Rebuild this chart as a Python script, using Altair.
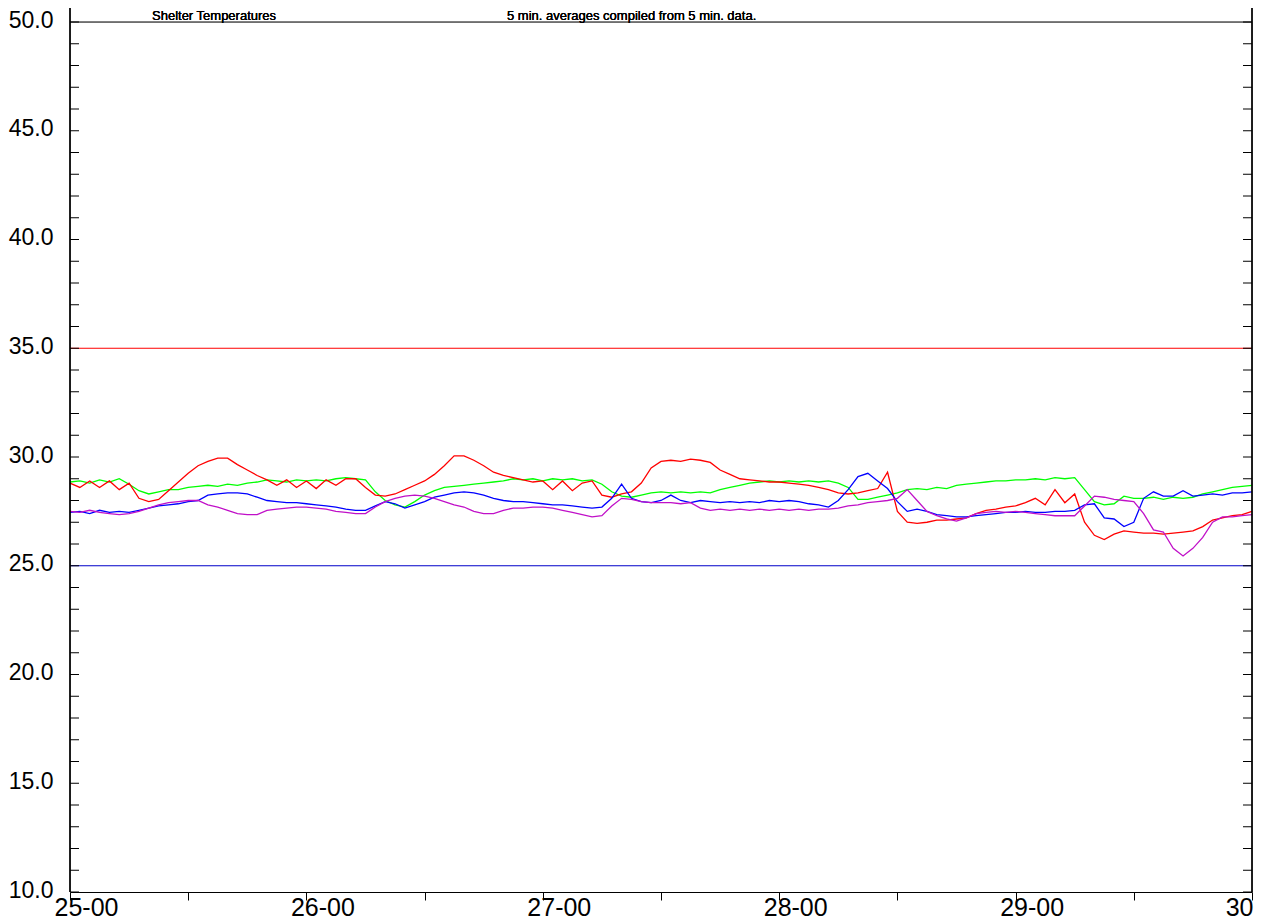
import altair as alt
import pandas as pd

# ---- data (hourly readings, hour 0 = day 25 00:00) ----
hours = list(range(121))

red = [28.8, 28.6, 28.9, 28.6, 28.9, 28.5, 28.8, 28.1, 27.95, 28.05,
       28.45, 28.85, 29.25, 29.6, 29.8, 29.95, 29.95, 29.65, 29.4, 29.15,
       28.95, 28.7, 28.95, 28.6, 28.9, 28.55, 28.95, 28.7, 29.0, 29.0,
       28.6, 28.25, 28.2, 28.3, 28.5, 28.7, 28.9, 29.2, 29.6, 30.05,
       30.05, 29.85, 29.6, 29.3, 29.15, 29.05, 28.95, 28.85, 28.9, 28.5,
       28.9, 28.45, 28.8, 28.9, 28.25, 28.15, 28.3, 28.4, 28.8, 29.5,
       29.8, 29.85, 29.8, 29.9, 29.85, 29.75, 29.4, 29.2, 29.0, 28.95,
       28.9, 28.85, 28.85, 28.8, 28.75, 28.7, 28.6, 28.5, 28.35, 28.3,
       28.35, 28.45, 28.55, 29.3, 27.5, 27.0, 26.95, 27.0, 27.1, 27.1,
       27.15, 27.2, 27.4, 27.55, 27.6, 27.7, 27.75, 27.9, 28.1, 27.8,
       28.5, 27.9, 28.3, 27.0, 26.4, 26.2, 26.45, 26.6, 26.55, 26.5,
       26.5, 26.45, 26.5, 26.55, 26.6, 26.8, 27.1, 27.2, 27.3, 27.35,
       27.5]

green = [28.85, 28.9, 28.8, 28.95, 28.85, 29.0, 28.75, 28.45, 28.3, 28.4,
         28.5, 28.5, 28.6, 28.65, 28.7, 28.65, 28.75, 28.7, 28.8, 28.85,
         28.95, 28.9, 28.85, 28.95, 28.9, 28.95, 28.9, 29.0, 29.05, 29.0,
         28.95, 28.4, 28.0, 27.8, 27.7, 27.95, 28.25, 28.45, 28.6, 28.65,
         28.7, 28.75, 28.8, 28.85, 28.9, 29.0, 28.95, 29.0, 28.9, 29.0,
         28.95, 29.0, 28.9, 28.95, 28.75, 28.4, 28.2, 28.15, 28.25, 28.35,
         28.4, 28.35, 28.4, 28.35, 28.4, 28.35, 28.5, 28.6, 28.7, 28.8,
         28.85, 28.9, 28.85, 28.9, 28.85, 28.9, 28.85, 28.9, 28.8, 28.6,
         28.05, 28.05, 28.15, 28.25, 28.35, 28.5, 28.55, 28.5, 28.6, 28.55,
         28.7, 28.75, 28.8, 28.85, 28.9, 28.9, 28.95, 28.95, 29.0, 28.95,
         29.05, 29.0, 29.05, 28.5, 27.95, 27.8, 27.85, 28.2, 28.1, 28.1,
         28.15, 28.05, 28.15, 28.1, 28.15, 28.3, 28.4, 28.5, 28.6, 28.65,
         28.7]

blue = [27.45, 27.5, 27.4, 27.55, 27.45, 27.5, 27.45, 27.55, 27.65, 27.75,
        27.8, 27.85, 27.95, 28.0, 28.25, 28.3, 28.35, 28.35, 28.3, 28.15,
        28.0, 27.95, 27.9, 27.9, 27.85, 27.8, 27.75, 27.7, 27.6, 27.55,
        27.55, 27.75, 27.95, 27.85, 27.65, 27.8, 27.95, 28.15, 28.25, 28.35,
        28.4, 28.35, 28.25, 28.1, 28.0, 27.95, 27.95, 27.9, 27.85, 27.8,
        27.8, 27.75, 27.7, 27.65, 27.7, 28.1, 28.75, 28.1, 27.95, 27.9,
        28.0, 28.25, 28.0, 27.9, 28.0, 27.95, 27.9, 27.95, 27.9, 27.95,
        27.9, 28.0, 27.95, 28.0, 27.95, 27.85, 27.8, 27.7, 28.0, 28.5,
        29.1, 29.25, 28.9, 28.55, 27.95, 27.5, 27.6, 27.5, 27.35, 27.3,
        27.25, 27.25, 27.3, 27.35, 27.4, 27.45, 27.45, 27.5, 27.45, 27.45,
        27.5, 27.5, 27.55, 27.8, 27.85, 27.2, 27.15, 26.8, 27.0, 28.1,
        28.4, 28.2, 28.2, 28.45, 28.2, 28.25, 28.3, 28.25, 28.35, 28.35,
        28.4]

magenta = [27.5, 27.45, 27.55, 27.45, 27.4, 27.35, 27.4, 27.5, 27.65, 27.8,
           27.9, 27.95, 28.0, 28.0, 27.8, 27.7, 27.55, 27.4, 27.35, 27.35,
           27.55, 27.6, 27.65, 27.7, 27.7, 27.65, 27.6, 27.5, 27.45, 27.4,
           27.4, 27.7, 27.95, 28.1, 28.2, 28.25, 28.2, 28.1, 27.95, 27.8,
           27.7, 27.5, 27.4, 27.4, 27.55, 27.65, 27.65, 27.7, 27.7, 27.65,
           27.55, 27.45, 27.35, 27.25, 27.3, 27.75, 28.1, 28.05, 27.95, 27.9,
           27.9, 27.9, 27.85, 27.9, 27.65, 27.55, 27.6, 27.55, 27.6, 27.55,
           27.6, 27.55, 27.6, 27.55, 27.6, 27.55, 27.6, 27.6, 27.65, 27.75,
           27.8, 27.9, 27.95, 28.0, 28.1, 28.5, 28.0, 27.5, 27.3, 27.15,
           27.05, 27.2, 27.4, 27.45, 27.5, 27.45, 27.5, 27.45, 27.4, 27.35,
           27.3, 27.3, 27.3, 27.75, 28.2, 28.15, 28.05, 28.0, 27.95, 27.4,
           26.65, 26.55, 25.8, 25.45, 25.8, 26.3, 27.0, 27.25, 27.25, 27.3,
           27.35]

series_names = ["green", "red", "blue", "magenta"]
series_values = [green, red, blue, magenta]
series_colors = ["#00ff00", "#ff0000", "#0000ff", "#c010c8"]

ref_values = [50, 35, 25]
ref_colors = ["#000000", "#ff0000", "#0000c8"]

y_label_values = [10, 15, 20, 25, 30, 35, 40, 45, 50]
y_tick_values = list(range(10, 51))
x_tick_values = list(range(0, 121, 12))

title_left = "Shelter Temperatures"
title_right = "5 min. averages compiled from 5 min. data."

# ---- tables ----
rows = []
for name, vals in zip(series_names, series_values):
    for h, v in zip(hours, vals):
        rows.append({"hour": h, "temp": v, "series": name})
df = pd.DataFrame(rows)
ref_df = pd.DataFrame({"v": ref_values, "c": ref_colors})
ytick_df = pd.DataFrame({"v": y_tick_values})

W, H = 1182, 870
FONT = "Liberation Sans"
xs = alt.Scale(domain=[0, 120], nice=False, zero=False)
ys = alt.Scale(domain=[10, 50], nice=False, zero=False)

x_axis = alt.Axis(
    values=x_tick_values, tickSize=8, tickColor="#000000", domain=True,
    domainColor="#000000", grid=False, title=None,
    labelExpr=("datum.value == 120 ? '30' : "
               "(datum.value % 24 == 0 ? (25 + datum.value / 24) + '-00' : '')"),
    labelFont=FONT, labelFontSize=25, labelColor="#000000",
    labelPadding=-5,
    labelOffset={"condition": {"test": "datum.value == 120", "value": 1}, "value": 16},
    labelAlign={"condition": {"test": "datum.value == 120", "value": "right"}, "value": "center"},
    labelBaseline="top", labelFlush=False, labelOverlap=False,
)
y_axis = alt.Axis(
    values=y_label_values, ticks=False, tickSize=0, domain=False, grid=False,
    title=None, format=".1f", labelFont=FONT, labelFontSize=23,
    labelColor="#000000", labelPadding=17, labelBaseline="alphabetic",
    labelOffset=5, labelFlush=False, labelOverlap=False,
)

refs = alt.Chart(ref_df).mark_rule(strokeWidth=1).encode(
    y=alt.Y("v:Q", scale=ys, axis=y_axis, title=None),
    color=alt.Color("c:N", scale=None, legend=None),
)

layers = []
for name, col in zip(series_names, series_colors):
    layers.append(
        alt.Chart(df).transform_filter(alt.datum.series == name)
        .mark_line(color=col, strokeWidth=1.3)
        .encode(
            x=alt.X("hour:Q", scale=xs, axis=x_axis, title=None),
            y=alt.Y("temp:Q", scale=ys, axis=y_axis, title=None),
        )
    )

left_ticks = alt.Chart(ytick_df).mark_rule(color="#000000", strokeWidth=1).encode(
    y=alt.Y("v:Q", scale=ys, axis=y_axis, title=None), x=alt.value(0), x2=alt.value(9)
)
right_ticks = alt.Chart(ytick_df).mark_rule(color="#000000", strokeWidth=1).encode(
    y=alt.Y("v:Q", scale=ys, axis=y_axis, title=None), x=alt.value(W - 9), x2=alt.value(W)
)

frame_left = alt.Chart(ref_df).mark_rule(color="#000000", strokeWidth=1).encode(
    x=alt.value(0), y=alt.value(-14), y2=alt.value(H)
)
frame_right = alt.Chart(ref_df).mark_rule(color="#000000", strokeWidth=1).encode(
    x=alt.value(W), y=alt.value(-14), y2=alt.value(H)
)

t1 = alt.Chart(ref_df).mark_text(
    align="left", baseline="alphabetic", font=FONT, fontSize=13, color="#000000"
).encode(x=alt.value(82), y=alt.value(-2), text=alt.value(title_left))
t2 = alt.Chart(ref_df).mark_text(
    align="left", baseline="alphabetic", font=FONT, fontSize=13, color="#000000"
).encode(x=alt.value(437), y=alt.value(-2), text=alt.value(title_right))

chart = alt.layer(
    refs, *layers, left_ticks, right_ticks, frame_left, frame_right, t1, t2
).properties(
    width=W, height=H,
    autosize=alt.AutoSizeParams(type="none"),
    padding={"left": 62, "top": 14, "right": 2, "bottom": 30},
).configure_view(stroke=None).configure(background="#ffffff")

chart.save("out.html", embed_options={"renderer": "svg", "actions": False})
